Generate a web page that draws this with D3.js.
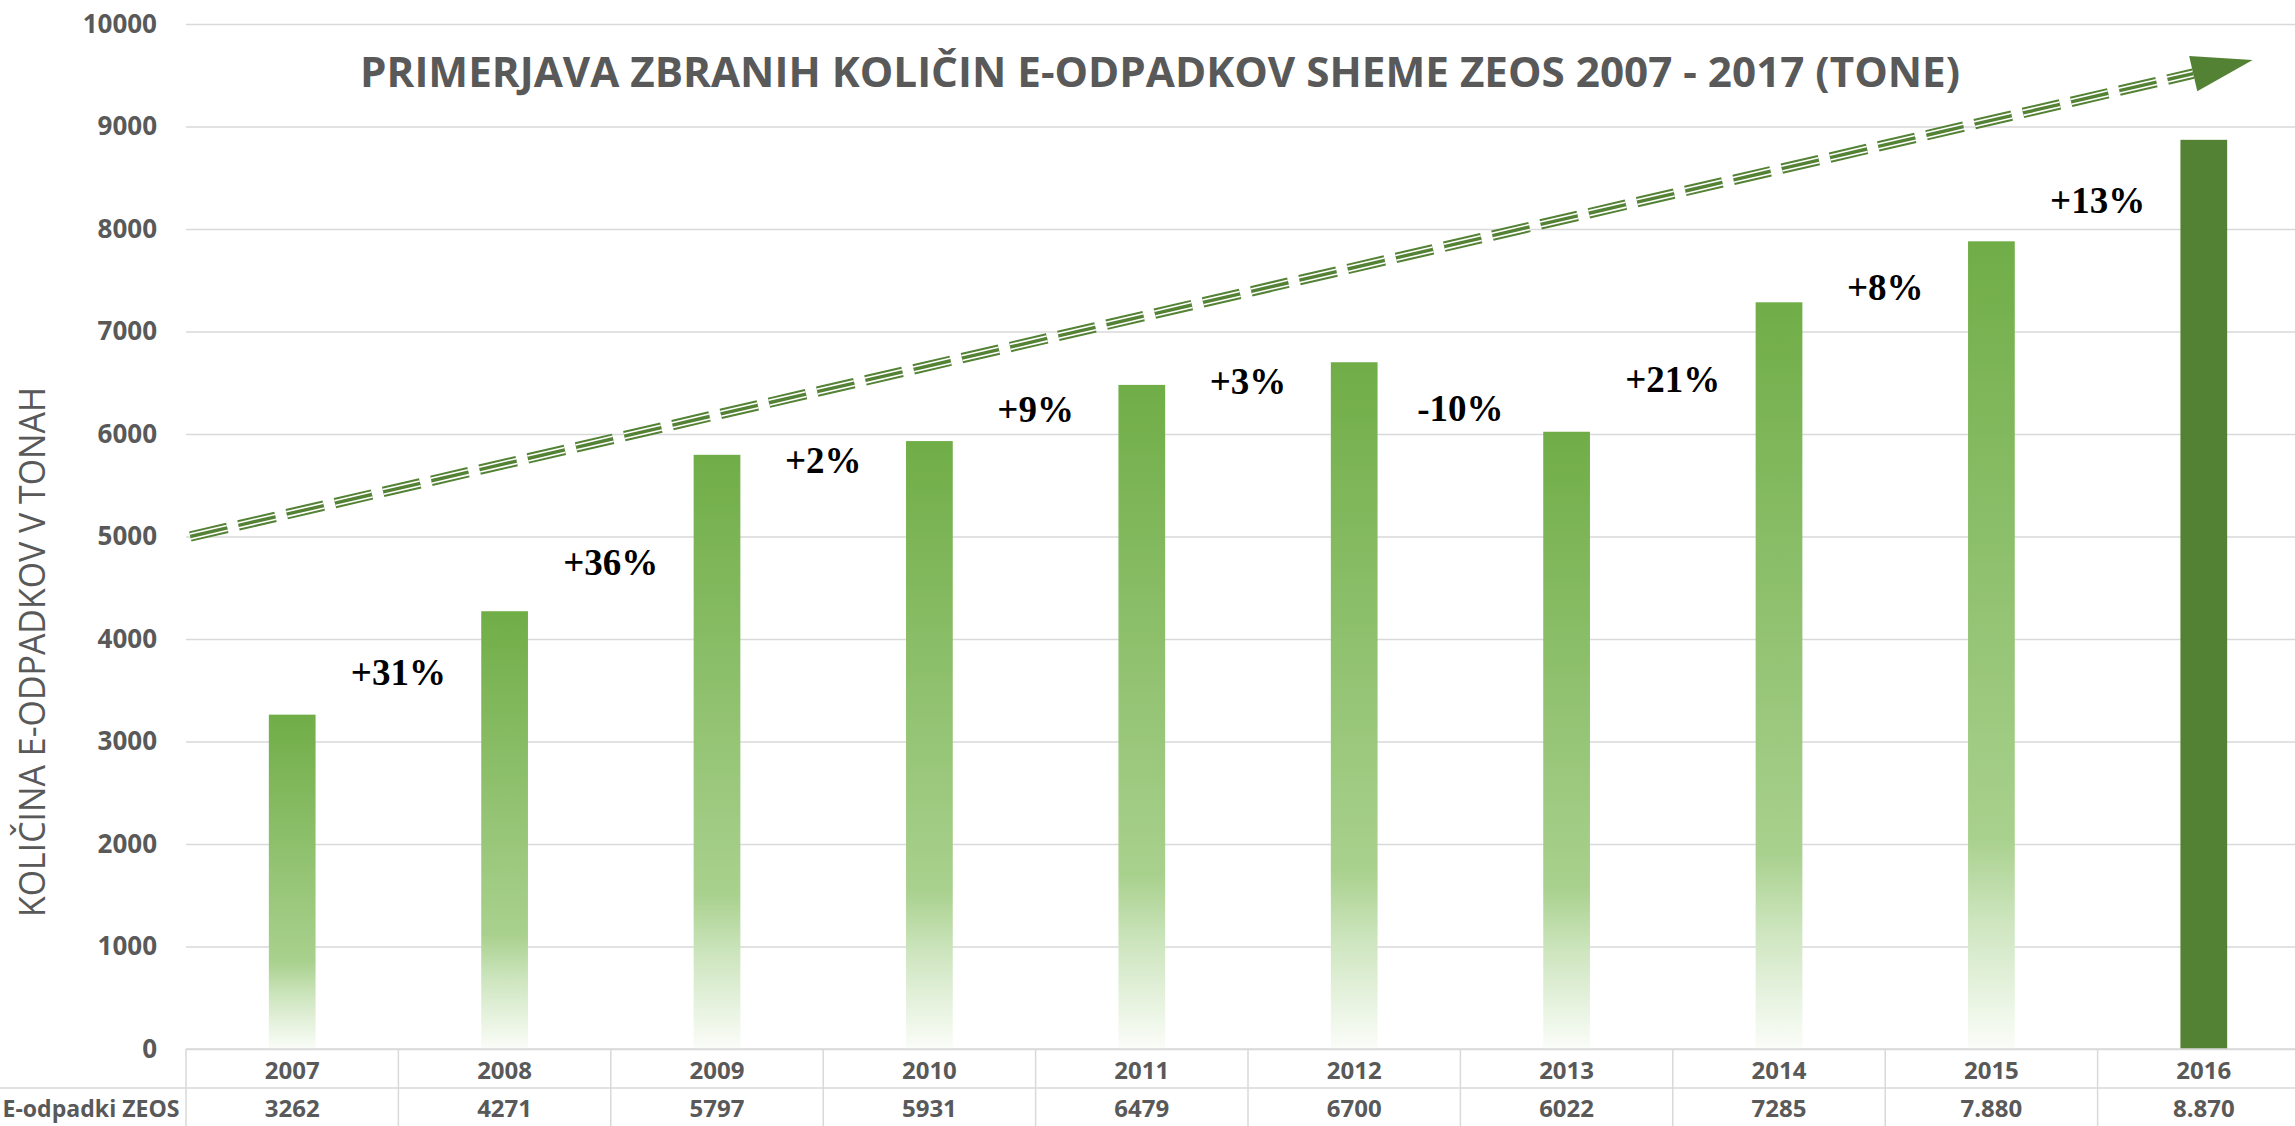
<!DOCTYPE html>
<html>
<head>
<meta charset="utf-8">
<script src="https://cdn.jsdelivr.net/npm/d3@7"></script>
<style>
  body { margin: 0; background: #fff; }
  svg { display: block; }
</style>
</head>
<body>
<script>
//Width and height
var w = 2295;
var h = 1126;

// chart data
var years = ["2007", "2008", "2009", "2010", "2011", "2012", "2013", "2014", "2015", "2016"];
var tonnes = [3262, 4271, 5797, 5931, 6479, 6700, 6022, 7285, 7880, 8870];
var tableLabels = ["3262", "4271", "5797", "5931", "6479", "6700", "6022", "7285", "7.880", "8.870"];
var changes = ["+31%", "+36%", "+2%", "+9%", "+3%", "-10%", "+21%", "+8%", "+13%"];
// level (in tonnes) where each change label sits, between two columns
var changeLevels = [3550, 4620, 5620, 6120, 6390, 6130, 6410, 7310, 8160];
var yTicks = [0, 1000, 2000, 3000, 4000, 5000, 6000, 7000, 8000, 9000, 10000];
// trend arrow: [column index, tonnes]
var trendStart = [-0.48, 5000];
var trendEnd = [9.23, 9650];

var title = "PRIMERJAVA ZBRANIH KOLIČIN E-ODPADKOV SHEME ZEOS 2007 - 2017 (TONE)";
var yTitle = "KOLIČINA E-ODPADKOV V TONAH";
var rowTitle = "E-odpadki ZEOS";

var grey = "#595959";
var lineCol = "#d9d9d9";
var sans = "'Open Sans', 'DejaVu Sans', sans-serif";

// plot area (note: "top" is taken by window.top, so plotTop)
var plotLeft = 186, plotRight = 2310, plotTop = 24, plotBase = 1049;
var row1 = 1088;

//Scales
var x = d3.scaleBand().domain(years).range([plotLeft, plotRight]);
var xi = d3.scaleLinear().domain([-0.5, years.length - 0.5]).range([plotLeft, plotRight]);
var y = d3.scaleLinear().domain([0, 10000]).range([plotBase, plotTop]);

//Create SVG element
var svg = d3.select("body")
            .append("svg")
            .attr("width", w)
            .attr("height", h);

// bar gradient: green on top fading to white at the bottom
var grad = svg.append("defs")
              .append("linearGradient")
              .attr("id", "barFade")
              .attr("x1", 0).attr("y1", 0)
              .attr("x2", 0).attr("y2", 1);
grad.selectAll("stop")
    .data([[0, "#70AD47"], [0.74, "#A9D18E"], [0.84, "#CDE5BE"], [1, "#FBFDF9"]])
    .enter()
    .append("stop")
    .attr("offset", function(d){ return d[0]; })
    .attr("stop-color", function(d){ return d[1]; });

// y axis with gridlines
var yAxis = svg.append("g")
               .attr("transform", "translate(" + plotLeft + ",0)")
               .call(d3.axisLeft(y)
                       .tickValues(yTicks)
                       .tickSize(-(w - plotLeft))
                       .tickPadding(29)
                       .tickFormat(d3.format("d")));
yAxis.select(".domain").remove();
yAxis.selectAll(".tick line")
     .attr("stroke", lineCol)
     .attr("stroke-width", 1.5);
yAxis.selectAll(".tick text")
     .attr("fill", grey)
     .style("font-family", sans)
     .style("font-weight", "bold")
     .style("font-size", "26px");

// bars
var barW = x.bandwidth() * 0.22;
svg.selectAll("rect.bar")
   .data(tonnes)
   .enter()
   .append("rect")
   .attr("class", "bar")
   .attr("x", function(d, i){ return x(years[i]) + x.bandwidth() / 2 - barW / 2; })
   .attr("y", function(d){ return y(d); })
   .attr("width", barW)
   .attr("height", function(d){ return plotBase - y(d); })
   .attr("fill", function(d, i){
       // last year is highlighted in solid dark green
       return i == years.length - 1 ? "#548235" : "url(#barFade)";
   });

// trend arrow (compound dashed line + head)
var p0 = [xi(trendStart[0]), y(trendStart[1])];
var tip = [xi(trendEnd[0]), y(trendEnd[1])];
var dx = tip[0] - p0[0], dy = tip[1] - p0[1];
var len = Math.sqrt(dx * dx + dy * dy);
var ux = dx / len, uy = dy / len;
var headLen = 61, headHalf = 18;
var mid = [tip[0] - ux * headLen, tip[1] - uy * headLen];
var line = d3.line();
var arrow = svg.append("g");
[["#548235", 10.5], ["#ffffff", 6.5], ["#548235", 3.4]].forEach(function(s){
    arrow.append("path")
         .attr("d", line([p0, mid]))
         .attr("fill", "none")
         .attr("stroke", s[0])
         .attr("stroke-width", s[1])
         .attr("stroke-dasharray", "38 11.5");
});
arrow.append("path")
     .attr("d", line([tip,
                      [mid[0] - uy * headHalf, mid[1] + ux * headHalf],
                      [mid[0] + uy * headHalf, mid[1] - ux * headHalf]]) + "Z")
     .attr("fill", "#548235");

// change labels between columns
svg.selectAll("text.change")
   .data(changes)
   .enter()
   .append("text")
   .attr("class", "change")
   .attr("x", function(d, i){ return xi(i + 0.5); })
   .attr("y", function(d, i){ return y(changeLevels[i]); })
   .attr("text-anchor", "middle")
   .style("font-family", "'Liberation Serif', 'Times New Roman', serif")
   .style("font-weight", "bold")
   .style("font-size", "37px")
   .attr("fill", "#000")
   .text(function(d){ return d; });

// data table under the chart
var table = svg.append("g");
table.append("line")
     .attr("x1", plotLeft).attr("x2", w)
     .attr("y1", plotBase).attr("y2", plotBase);
table.append("line")
     .attr("x1", 0).attr("x2", w)
     .attr("y1", row1).attr("y2", row1);
table.selectAll("line.col")
     .data(d3.range(years.length + 1))
     .enter()
     .append("line")
     .attr("class", "col")
     .attr("x1", function(d){ return xi(d - 0.5); })
     .attr("x2", function(d){ return xi(d - 0.5); })
     .attr("y1", plotBase).attr("y2", h);
table.selectAll("line")
     .attr("stroke", lineCol)
     .attr("stroke-width", 1.5);

table.selectAll("text.year")
     .data(years)
     .enter()
     .append("text")
     .attr("class", "year")
     .attr("x", function(d){ return x(d) + x.bandwidth() / 2; })
     .attr("y", 1079)
     .text(function(d){ return d; });
table.selectAll("text.val")
     .data(tableLabels)
     .enter()
     .append("text")
     .attr("class", "val")
     .attr("x", function(d, i){ return x(years[i]) + x.bandwidth() / 2; })
     .attr("y", 1117)
     .text(function(d){ return d; });
table.append("text")
     .attr("x", 91)
     .attr("y", 1117)
     .attr("textLength", 177)
     .attr("lengthAdjust", "spacingAndGlyphs")
     .text(rowTitle);
table.selectAll("text")
     .attr("text-anchor", "middle")
     .attr("fill", grey)
     .style("font-family", sans)
     .style("font-weight", "bold")
     .style("font-size", "24px");

// titles
svg.append("text")
   .attr("x", 1160)
   .attr("y", 87)
   .attr("text-anchor", "middle")
   .attr("textLength", 1600)
   .attr("lengthAdjust", "spacingAndGlyphs")
   .attr("fill", grey)
   .style("font-family", sans)
   .style("font-weight", "bold")
   .style("font-size", "42px")
   .text(title);

svg.append("text")
   .attr("transform", "translate(45,652) rotate(-90)")
   .attr("text-anchor", "middle")
   .attr("textLength", 530)
   .attr("lengthAdjust", "spacingAndGlyphs")
   .attr("fill", grey)
   .style("font-family", sans)
   .style("font-size", "36px")
   .text(yTitle);
</script>
</body>
</html>
